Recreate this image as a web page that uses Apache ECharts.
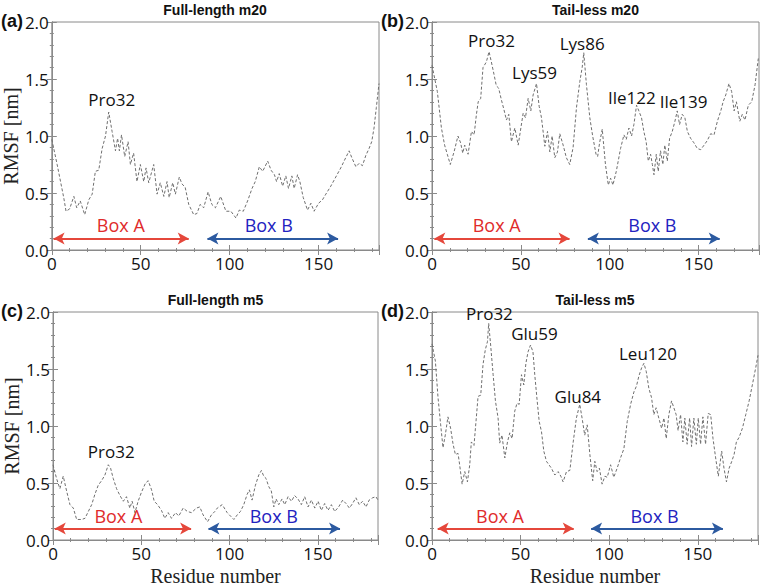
<!DOCTYPE html>
<html><head><meta charset="utf-8">
<script src="https://cdn.jsdelivr.net/npm/echarts/dist/echarts.min.js"></script>
<style>html,body{margin:0;padding:0;background:#fff}#c{width:762px;height:588px}</style>
</head><body><div id="c"></div><script>
// ---- data (residue number, RMSF nm) ----
const resA=[0,3,6.7,8,10,12.4,14,16,18.5,20.8,22.7,24.5,26.4,28.3,30.2,32,33.9,35.8,37,38,39.2,41,42.9,44.2,46,47.9,49.8,51.7,53,54.5,57.3,59.2,61,63,64.8,66,68,69.5,71.7,73.2,75,77,79.8,81.6,83.5,85.4,87.9,90,92,95,97.9,100.7,103.6,105.4,107.7,110.1,112.6,114.4,116.7,118.6,121.4,123.3,125.2,126.4,127.9,129.8,131.6,133.1,135,136.3,138.2,139.5,141.4,143.8,145.7,147.5,150,152.2,154.1,156.9,159.7,162.5,165.3,167.2,168.7,171,172.8,174.7,176.6,178.4,179.9,181.2,182.5,184];
const rmsfA=[0.97,0.75,0.46,0.34,0.36,0.47,0.37,0.43,0.31,0.44,0.49,0.69,0.70,0.89,1.0,1.21,1.04,0.87,0.98,0.87,1.01,0.82,0.95,0.75,0.85,0.60,0.75,0.60,0.72,0.59,0.75,0.49,0.59,0.47,0.60,0.46,0.59,0.49,0.64,0.58,0.55,0.40,0.31,0.32,0.40,0.37,0.51,0.40,0.37,0.47,0.34,0.34,0.28,0.35,0.34,0.43,0.54,0.60,0.73,0.69,0.78,0.70,0.66,0.60,0.67,0.56,0.65,0.54,0.65,0.54,0.66,0.60,0.46,0.35,0.41,0.34,0.41,0.44,0.49,0.56,0.64,0.72,0.81,0.87,0.81,0.73,0.76,0.74,0.83,0.89,0.95,1.07,1.25,1.46];

const resB=[0,3,5.3,7.1,8.6,10.3,12.4,14.6,16.1,17.3,18.4,20.3,22.2,23.7,25,26,27.4,28.7,30.6,32.1,33.4,34.9,36.2,37.5,39,40.5,41.9,43.2,44.7,46.6,48.5,50,51.3,52.6,54.1,55.6,56.9,58.8,60.3,61.6,63.5,65,66.3,67.6,69.1,70.6,71.9,73.8,75.6,77.5,79.4,81.3,83.2,84.5,85.4,86.9,88.8,90.4,92.3,93.2,94.3,95.8,97.6,99.2,100.5,101.8,103.7,106.1,108,109.3,110.8,112.3,113.6,115.1,116.4,117.9,119.2,120.5,121.7,123,124,124.9,126.2,127.3,128.6,129.9,131,132.4,133.7,135.2,136.7,138,139.3,140.8,142.3,143.7,145.5,147.4,149.3,151.2,153.1,154.9,156.8,158.7,160.6,162.5,163.8,165.3,167.1,168.6,170,171.3,173.2,174.6,176.1,178,179.9,181.8,183.6];
const rmsfB=[1.62,1.39,1.07,0.92,0.84,0.75,0.86,1.0,0.94,0.85,0.92,0.84,1.04,1.01,1.19,1.30,1.33,1.60,1.65,1.74,1.65,1.54,1.44,1.42,1.32,1.23,1.14,1.19,0.95,1.07,0.92,1.07,1.20,1.16,1.33,1.22,1.36,1.46,1.26,1.16,0.91,1.04,0.86,1.0,0.81,0.86,1.02,0.92,0.81,0.75,0.90,1.25,1.48,1.60,1.73,1.45,1.16,1.0,0.84,0.82,0.94,1.06,0.75,0.57,0.63,0.57,0.69,0.89,1.01,0.97,1.07,1.0,1.10,1.27,1.22,1.16,1.04,0.95,0.78,0.84,0.75,0.66,0.84,0.69,0.87,0.75,0.92,0.78,0.98,1.04,1.13,1.22,1.10,1.19,1.16,1.04,0.98,0.94,0.89,0.88,0.92,0.96,1.02,1.01,1.13,1.22,1.30,1.36,1.46,1.39,1.22,1.30,1.13,1.19,1.14,1.27,1.30,1.45,1.68];

const resC=[0,2,3.9,5.8,7.7,9.6,11.5,13.4,16.2,18.1,20,21.9,23.7,25.6,27.5,29.4,31.3,32.6,34.1,36,37.9,39.8,41.6,43.5,44.8,46.4,48.2,50.1,52.4,53.9,55.8,57.3,59.2,61.4,63.3,65.2,67.1,69.4,71.2,73.7,76.1,78.4,81.2,83.1,85,87.5,89.7,91.6,93,95.8,98.6,100.5,102.4,104.3,106.1,108,109.9,111.2,112.7,114.6,116.5,118,119.3,120.6,122.1,123.6,125,126.3,127.8,129.7,131.2,133.1,135,136.8,138.7,140.6,142.5,144.4,146.3,148.2,150.1,151.9,153.8,155.7,157.6,159.5,161.7,164,165.9,167.8,169.6,171.5,173.4,175.3,177.2,179,180.9,182.8,184];
const rmsfC=[0.66,0.54,0.45,0.56,0.43,0.31,0.28,0.18,0.18,0.19,0.25,0.31,0.40,0.48,0.52,0.57,0.66,0.63,0.54,0.45,0.39,0.34,0.38,0.28,0.34,0.24,0.34,0.42,0.50,0.52,0.44,0.34,0.31,0.26,0.19,0.24,0.19,0.24,0.21,0.28,0.25,0.24,0.28,0.29,0.22,0.16,0.22,0.25,0.28,0.31,0.24,0.21,0.18,0.22,0.25,0.31,0.40,0.44,0.35,0.48,0.57,0.61,0.56,0.54,0.47,0.43,0.29,0.36,0.31,0.36,0.31,0.38,0.34,0.39,0.36,0.31,0.38,0.29,0.35,0.28,0.34,0.26,0.32,0.26,0.31,0.25,0.29,0.35,0.32,0.28,0.32,0.37,0.31,0.34,0.29,0.35,0.37,0.38,0.35];

const resD=[0,1.9,3.4,4.9,6.2,7.5,9,10.5,11.9,13.2,14.7,15.6,17,18.5,20,21.3,22.2,23.7,25,26,27.5,28.8,30.1,31.3,32,33.1,34.5,35.8,37.3,38.2,39.5,41.1,42.6,43.9,45.2,46.7,48,49.2,50.5,51.8,53,54.2,55.6,57,58,59.3,60.5,61.8,63.1,64.6,66,67.4,69.3,71.2,72.7,74,75.9,77.8,79.7,81.5,83.4,84.7,86.2,87.6,89.1,90.7,91.9,93.2,94.5,96,97.6,98.9,100.8,102.6,104.5,106.4,108.3,110.2,112.1,114,115.4,116.8,118.3,119.6,120.9,122.4,123.9,125.2,126.5,128,129.6,130.9,132.2,133.7,135.2,136.5,137.8,138.9,140.3,141.6,142.7,144,145.4,146.5,147.8,149.2,150.3,151.6,152.9,154.4,155.9,157.3,158.6,160.1,161.6,163.5,164.8,166.2,167.7,169.2,170.5,171.8,173.3,175.2,177.1,179,180.8,182.7,184];
const rmsfD=[1.72,1.57,1.25,1.01,0.81,0.92,1.08,0.98,0.84,0.75,0.76,0.66,0.49,0.60,0.51,0.66,0.86,0.83,1.07,1.26,1.27,1.54,1.67,1.74,1.90,1.71,1.45,1.22,1.07,0.85,0.92,0.72,0.86,0.94,0.89,1.13,1.20,1.19,1.45,1.36,1.55,1.65,1.71,1.65,1.45,1.23,1.04,0.95,0.78,0.69,0.66,0.63,0.57,0.60,0.56,0.51,0.60,0.61,0.86,1.07,1.19,1.07,0.92,1.01,0.75,0.52,0.69,0.60,0.63,0.49,0.56,0.55,0.66,0.55,0.63,0.72,0.80,1.04,1.19,1.30,1.35,1.44,1.51,1.55,1.48,1.33,1.25,1.10,1.16,1.07,0.98,1.07,0.89,1.10,1.22,1.16,1.10,0.96,1.10,0.86,1.07,0.84,1.07,0.82,1.07,0.84,1.07,0.84,1.08,0.84,1.11,1.10,0.89,0.72,0.56,0.78,0.63,0.51,0.63,0.69,0.75,0.86,0.90,0.98,1.10,1.22,1.36,1.51,1.62];

// annotations
const peaksA=['Pro32'], peakPosA=[[33.7,1.32]];
const peaksB=['Pro32','Lys59','Lys86','Ile122','Ile139'], peakPosB=[[33.5,1.84],[57.7,1.56],[84.5,1.81],[112.4,1.34],[141.6,1.30]];
const peaksC=['Pro32'], peakPosC=[[33,0.78]];
const peaksD=['Pro32','Glu59','Glu84','Leu120'], peakPosD=[[32.4,1.99],[57.8,1.81],[82.3,1.26],[121.9,1.64]];

// Box A / Box B spans (residues)
const boxAspan=[[1,77],[1.3,77.4],[1,78.2],[3.2,80]];
const boxBspan=[[87.5,161],[87.7,161.9],[88,162.5],[89.8,164.2]];
const boxLabels=['Box A','Box B'];
const boxLabelPos=[[[38.8,0.22],[122,0.22]],[[36.4,0.22],[124,0.22]],[[37,0.21],[125,0.21]],[[38.4,0.21],[125.6,0.21]]];
const boxArrowY=0.1;

const titles=['Full-length m20','Tail-less m20','Full-length m5','Tail-less m5'];
const tags=['(a)','(b)','(c)','(d)'];
const xTicks=[0,50,100,150];
const yTicks=[0,0.5,1.0,1.5,2.0];

const panels=[
 {res:resA,val:rmsfA,peaks:peaksA,pos:peakPosA,grid:{left:51,top:22,width:328,height:228},yname:true,xname:false},
 {res:resB,val:rmsfB,peaks:peaksB,pos:peakPosB,grid:{left:432,top:22,width:327,height:228},yname:false,xname:false},
 {res:resC,val:rmsfC,peaks:peaksC,pos:peakPosC,grid:{left:53,top:312,width:325,height:228},yname:true,xname:true},
 {res:resD,val:rmsfD,peaks:peaksD,pos:peakPosD,grid:{left:432,top:312,width:326,height:228},yname:false,xname:true}
];

const TICKF='Open Sans', SERIF='Liberation Serif';
const frame='#8a8a8a';
const grids=[],xAxes=[],yAxes=[],series=[],titleArr=[];
panels.forEach((p,i)=>{
  grids.push(Object.assign({show:true,borderColor:frame,borderWidth:1,backgroundColor:'#fff'},p.grid));
  const xBase={gridIndex:i,type:'value',min:0,max:184,interval:50,splitLine:{show:false},
    axisLine:{lineStyle:{color:frame}},axisTick:{inside:true,length:5,lineStyle:{color:frame}},
    minorTick:{show:true,splitNumber:5,length:2,lineStyle:{color:frame}}};
  xAxes.push(Object.assign({},xBase,{position:'bottom',
    axisLabel:{showMaxLabel:false,fontFamily:TICKF,fontSize:17,color:'#111',margin:5},
    name:p.xname?'Residue number':'',nameLocation:'middle',nameGap:26,
    nameTextStyle:{fontFamily:SERIF,fontSize:20,color:'#222'}}));
  xAxes.push(Object.assign({},xBase,{position:'top',axisLabel:{show:false}}));
  const yBase={gridIndex:i,type:'value',min:0,max:2,interval:0.5,splitLine:{show:false},
    axisLine:{lineStyle:{color:frame}},axisTick:{inside:true,length:5,lineStyle:{color:frame}},
    minorTick:{show:true,splitNumber:5,length:2,lineStyle:{color:frame}}};
  yAxes.push(Object.assign({},yBase,{position:'left',
    axisLabel:{fontFamily:TICKF,fontSize:17,color:'#111',margin:3,formatter:v=>v.toFixed(1)},
    name:p.yname?'RMSF [nm]':'',nameLocation:'middle',nameGap:25,
    nameTextStyle:{fontFamily:SERIF,fontSize:20,color:'#222'}}));
  yAxes.push(Object.assign({},yBase,{position:'right',axisLabel:{show:false}}));

  const data=p.res.map((r,k)=>[r,p.val[k]]);
  const [bA,bB]=[boxAspan[i],boxBspan[i]];
  series.push({
    type:'line',xAxisIndex:2*i,yAxisIndex:2*i,data:data,showSymbol:false,symbol:'none',
    lineStyle:{color:'#6f6f6f',width:1,type:[3,2]},animation:false,silent:true,
    markLine:{silent:true,animation:false,symbol:['arrow','arrow'],symbolSize:[9,11],label:{show:false},
      data:[
        [{coord:[bA[0],boxArrowY],lineStyle:{color:'#e5473b',width:2,type:'solid'}},{coord:[bA[1],boxArrowY]}],
        [{coord:[bB[0],boxArrowY],lineStyle:{color:'#2c5aa0',width:2,type:'solid'}},{coord:[bB[1],boxArrowY]}]
      ]},
    markPoint:{silent:true,animation:false,symbol:'circle',symbolSize:0,
      data:p.peaks.map((t,k)=>({name:t,coord:p.pos[k],
          label:{show:true,position:'inside',formatter:t,fontFamily:TICKF,fontSize:17,color:'#111'}}))
        .concat(boxLabels.map((t,k)=>({name:t,coord:boxLabelPos[i][k],
          label:{show:true,position:'inside',formatter:t,fontFamily:TICKF,fontSize:18,color:k===0?'#e02b2b':'#2222c0'}})))
    }
  });
  const cx=p.grid.left+p.grid.width/2;
  titleArr.push({text:titles[i],left:cx,top:p.grid.top-19,textAlign:'center',padding:0,
    textStyle:{fontFamily:'Liberation Sans',fontWeight:'bold',fontSize:14,color:'#111'}});
  titleArr.push({text:tags[i],left:i%2===0?1:381,top:p.grid.top-10,padding:0,
    textStyle:{fontFamily:'Liberation Sans',fontWeight:'bold',fontSize:18,color:'#111'}});
});

const chart=echarts.init(document.getElementById('c'),null,{renderer:'svg'});
chart.setOption({animation:false,backgroundColor:'#fff',title:titleArr,grid:grids,xAxis:xAxes,yAxis:yAxes,series:series});
</script></body></html>
